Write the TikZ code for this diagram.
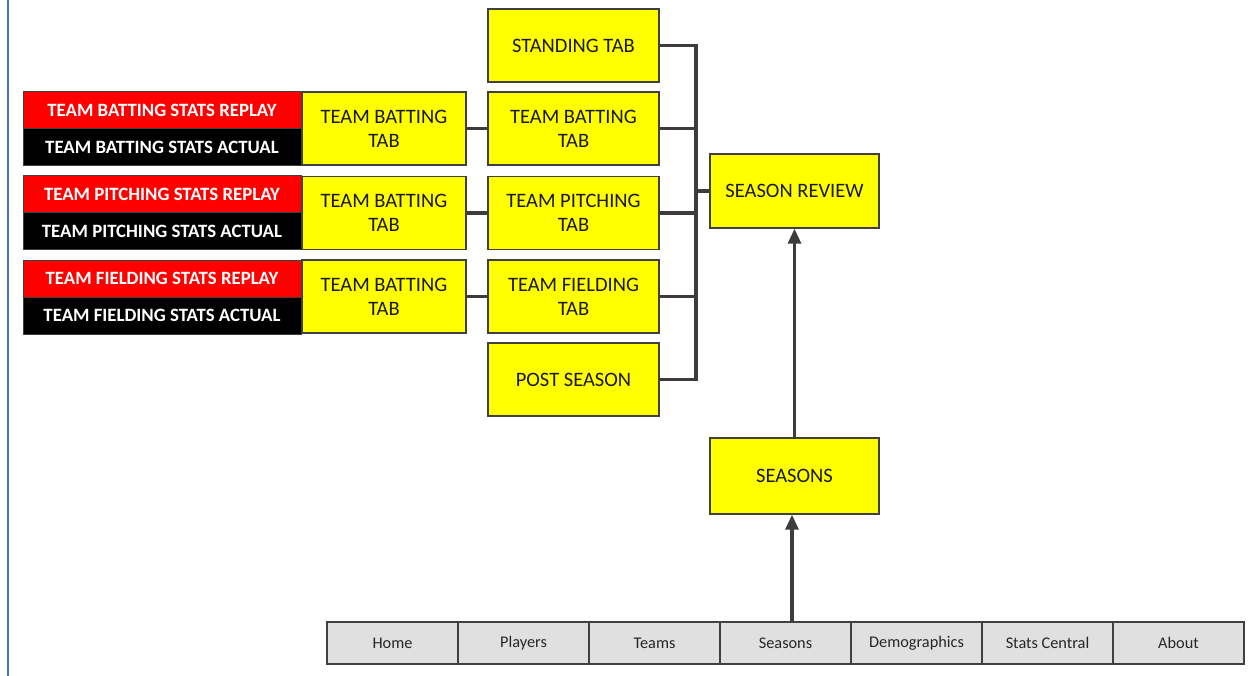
\documentclass[tikz,border=0pt]{standalone}
\usepackage{fontspec}
\setmainfont{Carlito}
\usetikzlibrary{arrows.meta}
\definecolor{boxline}{HTML}{404040}
\definecolor{conn}{HTML}{3C3C3C}
\definecolor{navfill}{HTML}{E0E0E0}
\definecolor{bluebar}{HTML}{4472C4}
\definecolor{redfill}{HTML}{FF0000}
\definecolor{yfill}{HTML}{FFFF00}
\begin{document}
\begin{tikzpicture}[x=1pt,y=-1pt,
  ybox/.style={draw=boxline, fill=yfill, line width=1.4pt, inner sep=0pt, align=center,
    font=\fontsize{20.5}{24}\selectfont, text=black!90},
  midbox/.style={ybox, minimum width=171pt, minimum height=73pt},
  leftbox/.style={ybox, minimum width=164pt, minimum height=73pt},
  statbox/.style={draw=boxline, line width=1pt, inner sep=0pt, minimum width=278pt, minimum height=37pt,
    text=white, font=\bfseries\fontsize{18.8}{20}\selectfont},
  navbox/.style={draw=boxline, fill=navfill, line width=1.2pt, inner sep=0pt, minimum width=131pt,
    minimum height=42pt, font=\fontsize{16.3}{20}\selectfont, text=black!85},
  link/.style={draw=conn, line width=3.2pt},
  arr/.style={link, -{Triangle[width=13pt,length=15pt]}}
]
\useasboundingbox (0,0) rectangle (1249,676);
\draw[bluebar, line width=2.5pt] (8,0) -- (8,676);

% middle column
\node[midbox] (stand) at (573.5,45.5) {STANDING TAB};
\node[midbox] (mbat) at (573.5,128.5) {TEAM BATTING\\TAB};
\node[midbox] (mpit) at (573.5,213) {TEAM PITCHING\\TAB};
\node[midbox] (mfld) at (573.5,296.5) {TEAM FIELDING\\TAB};
\node[midbox] (post) at (573.5,379.5) {POST SEASON};

% left column
\node[leftbox] (lbat) at (384,128.5) {TEAM BATTING\\TAB};
\node[leftbox] (lpit) at (384,213) {TEAM BATTING\\TAB};
\node[leftbox] (lfld) at (384,296.5) {TEAM BATTING\\TAB};

% stats boxes
\node[statbox, fill=redfill] (r1) at (162,110.5) {TEAM BATTING STATS REPLAY};
\node[statbox, fill=black] (b1) at (162,147.5) {TEAM BATTING STATS ACTUAL};
\node[statbox, fill=redfill] (r2) at (162,194.5) {TEAM PITCHING STATS REPLAY};
\node[statbox, fill=black] (b2) at (162,231.5) {TEAM PITCHING STATS ACTUAL};
\node[statbox, fill=redfill] (r3) at (162,278.5) {TEAM FIELDING STATS REPLAY};
\node[statbox, fill=black] (b3) at (162,315.5) {TEAM FIELDING STATS ACTUAL};

% right
\node[ybox, minimum width=169pt, minimum height=74pt] (review) at (794.5,191) {SEASON REVIEW};
\node[ybox, minimum width=169pt, minimum height=76pt] (seasons) at (794.5,476) {SEASONS};

% nav bar
\foreach \i/\t/\n in {0/Home/nhome,1/Players/nplayers,2/Teams/nteams,3/Seasons/nseasons,4/Demographics/ndemo,5/Stats Central/nstats,6/About/nabout}{
  \node[navbox] (\n) at (392.5+131*\i,643) {\t};
}

% connectors
\coordinate (bus) at (696,0);
\draw[link] (stand.east) -- (stand.east -| bus) -- (post.east -| bus) -- (post.east);
\draw[link] (mbat.east) -- (mbat.east -| bus);
\draw[link] (mpit.east) -- (mpit.east -| bus);
\draw[link] (mfld.east) -- (mfld.east -| bus);
\draw[link] (review.west -| bus) -- (review.west);
\draw[link] (lbat.east) -- (mbat.west);
\draw[link] (lpit.east) -- (mpit.west);
\draw[link] (lfld.east) -- (mfld.west);
\draw[arr] (seasons.north) -- (review.south);
\draw[arr] (nseasons.north -| 792,0) -- (seasons.south -| 792,0);
\end{tikzpicture}
\end{document}
